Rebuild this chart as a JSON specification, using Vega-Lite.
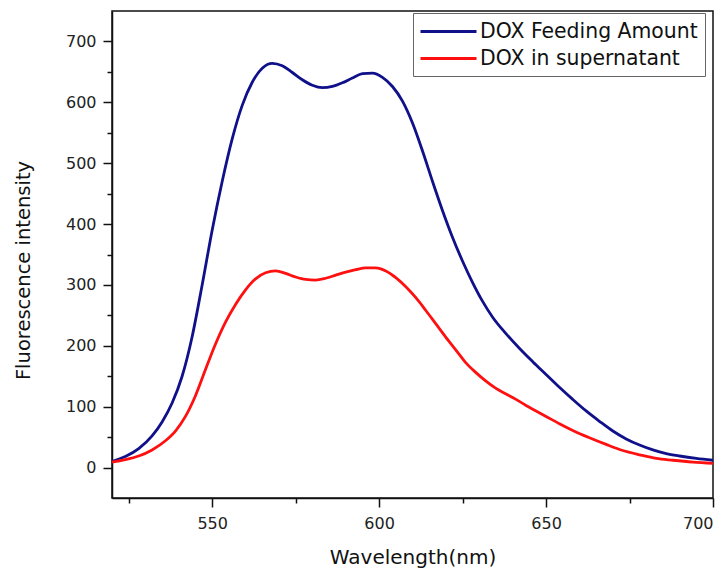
{
  "$schema": "https://vega.github.io/schema/vega-lite/v6.json",
  "width": 601,
  "height": 487,
  "autosize": {"type": "none"},
  "padding": {"left": 112, "top": 11, "right": 15, "bottom": 71},
  "background": "white",
  "config": {
    "view": {"stroke": "#111", "strokeWidth": 1.5},
    "font": "DejaVu Sans"
  },
  "datasets": {
    "spectra": [
      {"series": "DOX Feeding Amount", "wavelength": 520, "intensity": 10},
      {"series": "DOX Feeding Amount", "wavelength": 524, "intensity": 18},
      {"series": "DOX Feeding Amount", "wavelength": 528, "intensity": 31},
      {"series": "DOX Feeding Amount", "wavelength": 532, "intensity": 52},
      {"series": "DOX Feeding Amount", "wavelength": 535, "intensity": 75},
      {"series": "DOX Feeding Amount", "wavelength": 538, "intensity": 106},
      {"series": "DOX Feeding Amount", "wavelength": 541, "intensity": 150},
      {"series": "DOX Feeding Amount", "wavelength": 544, "intensity": 215},
      {"series": "DOX Feeding Amount", "wavelength": 547, "intensity": 300},
      {"series": "DOX Feeding Amount", "wavelength": 550, "intensity": 390},
      {"series": "DOX Feeding Amount", "wavelength": 553, "intensity": 470},
      {"series": "DOX Feeding Amount", "wavelength": 556, "intensity": 540},
      {"series": "DOX Feeding Amount", "wavelength": 559, "intensity": 595},
      {"series": "DOX Feeding Amount", "wavelength": 562, "intensity": 633},
      {"series": "DOX Feeding Amount", "wavelength": 565, "intensity": 656},
      {"series": "DOX Feeding Amount", "wavelength": 568, "intensity": 664},
      {"series": "DOX Feeding Amount", "wavelength": 571, "intensity": 660},
      {"series": "DOX Feeding Amount", "wavelength": 574, "intensity": 649},
      {"series": "DOX Feeding Amount", "wavelength": 577, "intensity": 637},
      {"series": "DOX Feeding Amount", "wavelength": 580, "intensity": 628},
      {"series": "DOX Feeding Amount", "wavelength": 583, "intensity": 624},
      {"series": "DOX Feeding Amount", "wavelength": 586, "intensity": 626},
      {"series": "DOX Feeding Amount", "wavelength": 589, "intensity": 632},
      {"series": "DOX Feeding Amount", "wavelength": 592, "intensity": 640},
      {"series": "DOX Feeding Amount", "wavelength": 595, "intensity": 647},
      {"series": "DOX Feeding Amount", "wavelength": 598, "intensity": 648},
      {"series": "DOX Feeding Amount", "wavelength": 601, "intensity": 641},
      {"series": "DOX Feeding Amount", "wavelength": 604, "intensity": 626},
      {"series": "DOX Feeding Amount", "wavelength": 607, "intensity": 602},
      {"series": "DOX Feeding Amount", "wavelength": 610, "intensity": 566},
      {"series": "DOX Feeding Amount", "wavelength": 613, "intensity": 520},
      {"series": "DOX Feeding Amount", "wavelength": 616, "intensity": 470},
      {"series": "DOX Feeding Amount", "wavelength": 619, "intensity": 422},
      {"series": "DOX Feeding Amount", "wavelength": 622, "intensity": 378},
      {"series": "DOX Feeding Amount", "wavelength": 625, "intensity": 339},
      {"series": "DOX Feeding Amount", "wavelength": 628, "intensity": 304},
      {"series": "DOX Feeding Amount", "wavelength": 631, "intensity": 273},
      {"series": "DOX Feeding Amount", "wavelength": 634, "intensity": 247},
      {"series": "DOX Feeding Amount", "wavelength": 638, "intensity": 220},
      {"series": "DOX Feeding Amount", "wavelength": 642, "intensity": 196},
      {"series": "DOX Feeding Amount", "wavelength": 646, "intensity": 174},
      {"series": "DOX Feeding Amount", "wavelength": 650, "intensity": 153},
      {"series": "DOX Feeding Amount", "wavelength": 654, "intensity": 132},
      {"series": "DOX Feeding Amount", "wavelength": 658, "intensity": 112},
      {"series": "DOX Feeding Amount", "wavelength": 662, "intensity": 93},
      {"series": "DOX Feeding Amount", "wavelength": 666, "intensity": 76},
      {"series": "DOX Feeding Amount", "wavelength": 670, "intensity": 60},
      {"series": "DOX Feeding Amount", "wavelength": 674, "intensity": 47},
      {"series": "DOX Feeding Amount", "wavelength": 678, "intensity": 37},
      {"series": "DOX Feeding Amount", "wavelength": 682, "intensity": 29},
      {"series": "DOX Feeding Amount", "wavelength": 686, "intensity": 23},
      {"series": "DOX Feeding Amount", "wavelength": 690, "intensity": 19},
      {"series": "DOX Feeding Amount", "wavelength": 695, "intensity": 15},
      {"series": "DOX Feeding Amount", "wavelength": 700, "intensity": 12},
      {"series": "DOX in supernatant", "wavelength": 520, "intensity": 9},
      {"series": "DOX in supernatant", "wavelength": 524, "intensity": 13},
      {"series": "DOX in supernatant", "wavelength": 528, "intensity": 19},
      {"series": "DOX in supernatant", "wavelength": 532, "intensity": 29},
      {"series": "DOX in supernatant", "wavelength": 536, "intensity": 44},
      {"series": "DOX in supernatant", "wavelength": 539, "intensity": 60},
      {"series": "DOX in supernatant", "wavelength": 542, "intensity": 84},
      {"series": "DOX in supernatant", "wavelength": 545, "intensity": 118},
      {"series": "DOX in supernatant", "wavelength": 548, "intensity": 161},
      {"series": "DOX in supernatant", "wavelength": 551, "intensity": 203},
      {"series": "DOX in supernatant", "wavelength": 554, "intensity": 239},
      {"series": "DOX in supernatant", "wavelength": 557, "intensity": 268},
      {"series": "DOX in supernatant", "wavelength": 560, "intensity": 292},
      {"series": "DOX in supernatant", "wavelength": 563, "intensity": 310},
      {"series": "DOX in supernatant", "wavelength": 566, "intensity": 320},
      {"series": "DOX in supernatant", "wavelength": 569, "intensity": 323},
      {"series": "DOX in supernatant", "wavelength": 572, "intensity": 319},
      {"series": "DOX in supernatant", "wavelength": 575, "intensity": 313},
      {"series": "DOX in supernatant", "wavelength": 578, "intensity": 309},
      {"series": "DOX in supernatant", "wavelength": 581, "intensity": 308},
      {"series": "DOX in supernatant", "wavelength": 584, "intensity": 311},
      {"series": "DOX in supernatant", "wavelength": 587, "intensity": 316},
      {"series": "DOX in supernatant", "wavelength": 590, "intensity": 321},
      {"series": "DOX in supernatant", "wavelength": 593, "intensity": 325},
      {"series": "DOX in supernatant", "wavelength": 596, "intensity": 328},
      {"series": "DOX in supernatant", "wavelength": 599, "intensity": 328},
      {"series": "DOX in supernatant", "wavelength": 602, "intensity": 323},
      {"series": "DOX in supernatant", "wavelength": 605, "intensity": 312},
      {"series": "DOX in supernatant", "wavelength": 608, "intensity": 297},
      {"series": "DOX in supernatant", "wavelength": 611, "intensity": 279},
      {"series": "DOX in supernatant", "wavelength": 614, "intensity": 258},
      {"series": "DOX in supernatant", "wavelength": 617, "intensity": 236},
      {"series": "DOX in supernatant", "wavelength": 620, "intensity": 214},
      {"series": "DOX in supernatant", "wavelength": 623, "intensity": 193},
      {"series": "DOX in supernatant", "wavelength": 626, "intensity": 172},
      {"series": "DOX in supernatant", "wavelength": 629, "intensity": 156},
      {"series": "DOX in supernatant", "wavelength": 632, "intensity": 142},
      {"series": "DOX in supernatant", "wavelength": 635, "intensity": 130},
      {"series": "DOX in supernatant", "wavelength": 638, "intensity": 121},
      {"series": "DOX in supernatant", "wavelength": 641, "intensity": 112},
      {"series": "DOX in supernatant", "wavelength": 644, "intensity": 102},
      {"series": "DOX in supernatant", "wavelength": 647, "intensity": 93},
      {"series": "DOX in supernatant", "wavelength": 650, "intensity": 84},
      {"series": "DOX in supernatant", "wavelength": 654, "intensity": 72},
      {"series": "DOX in supernatant", "wavelength": 658, "intensity": 61},
      {"series": "DOX in supernatant", "wavelength": 663, "intensity": 49},
      {"series": "DOX in supernatant", "wavelength": 668, "intensity": 38},
      {"series": "DOX in supernatant", "wavelength": 673, "intensity": 28},
      {"series": "DOX in supernatant", "wavelength": 678, "intensity": 21},
      {"series": "DOX in supernatant", "wavelength": 683, "intensity": 15},
      {"series": "DOX in supernatant", "wavelength": 688, "intensity": 12},
      {"series": "DOX in supernatant", "wavelength": 694, "intensity": 9},
      {"series": "DOX in supernatant", "wavelength": 700, "intensity": 7}
    ]
  },
  "data": {"name": "spectra"},
  "mark": {"type": "line", "interpolate": "monotone", "strokeWidth": 2.8},
  "encoding": {
    "x": {
      "field": "wavelength",
      "type": "quantitative",
      "scale": {"domain": [520, 700], "nice": false, "zero": false},
      "axis": {
        "title": "Wavelength(nm)",
        "values": [525, 550, 575, 600, 625, 650, 675, 700],
        "labelExpr": "datum.value % 50 === 0 ? datum.label : ''",
        "tickSize": {"condition": {"test": "datum.value % 50 !== 0", "value": 5}, "value": 9},
        "grid": false,
        "labelFont": "DejaVu Sans",
        "labelFontSize": 16,
        "labelColor": "#222",
        "labelPadding": 8,
        "titleFont": "DejaVu Sans",
        "titleFontSize": 20,
        "titleFontWeight": "normal",
        "titleColor": "#111",
        "titlePadding": 16,
        "domainColor": "#111",
        "domainWidth": 1.5,
        "tickColor": "#111",
        "tickWidth": 1.5
      }
    },
    "y": {
      "field": "intensity",
      "type": "quantitative",
      "scale": {"domain": [-50, 750], "nice": false, "zero": false},
      "axis": {
        "title": "Fluorescence intensity",
        "values": [0, 50, 100, 150, 200, 250, 300, 350, 400, 450, 500, 550, 600, 650, 700],
        "labelExpr": "datum.value % 100 === 0 ? datum.label : ''",
        "tickSize": {"condition": {"test": "datum.value % 100 !== 0", "value": 5}, "value": 9},
        "grid": false,
        "labelFont": "DejaVu Sans",
        "labelFontSize": 16,
        "labelColor": "#222",
        "labelPadding": 7,
        "titleFont": "DejaVu Sans",
        "titleFontSize": 19.5,
        "titleFontWeight": "normal",
        "titleColor": "#111",
        "titlePadding": 32,
        "titleY": 259,
        "domainColor": "#111",
        "domainWidth": 1.5,
        "tickColor": "#111",
        "tickWidth": 1.5
      }
    },
    "color": {
      "field": "series",
      "type": "nominal",
      "scale": {"domain": ["DOX Feeding Amount", "DOX in supernatant"], "range": ["#10108a", "#ff1010"]},
      "legend": {
        "title": null,
        "orient": "none",
        "legendX": 301,
        "legendY": 2,
        "symbolType": "M-2.8,0H2.8",
        "symbolSize": 400,
        "symbolStrokeWidth": 3,
        "symbolOffset": 17,
        "labelFont": "DejaVu Sans",
        "labelFontSize": 20.4,
        "labelColor": "#111",
        "labelOffset": 20,
        "labelLimit": 0,
        "padding": 7,
        "rowPadding": 5,
        "strokeColor": "#666",
        "fillColor": "white"
      }
    }
  }
}
